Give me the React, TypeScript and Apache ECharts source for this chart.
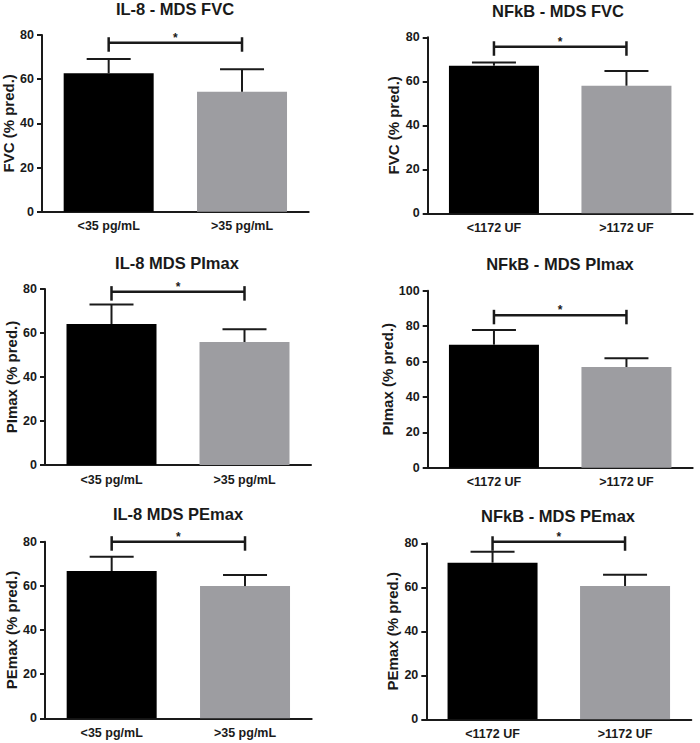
import React, { useEffect, useRef } from "react";
import * as echarts from "echarts";

// ---- data ----
const catsIL8 = ["<35 pg/mL", ">35 pg/mL"];
const catsNFkB = ["<1172 UF", ">1172 UF"];

const titles = [
  "IL-8 - MDS FVC",
  "NFkB - MDS FVC",
  "IL-8 MDS PImax",
  "NFkB - MDS PImax",
  "IL-8 MDS PEmax",
  "NFkB - MDS PEmax",
];
const yNames = [
  "FVC (% pred.)",
  "FVC (% pred.)",
  "PImax (% pred.)",
  "PImax (% pred.)",
  "PEmax (% pred.)",
  "PEmax (% pred.)",
];
const yMax = [80, 80, 80, 100, 80, 80];

const il8FvcMean = [62.7, 54.3];
const il8FvcSd = [6.4, 10.2];
const nfkbFvcMean = [67.1, 58.0];
const nfkbFvcSd = [1.5, 6.7];
const il8PimaxMean = [64.1, 55.9];
const il8PimaxSd = [8.9, 5.8];
const nfkbPimaxMean = [69.5, 56.9];
const nfkbPimaxSd = [8.3, 4.9];
const il8PemaxMean = [66.7, 59.9];
const il8PemaxSd = [6.5, 5.0];
const nfkbPemaxMean = [71.2, 60.6];
const nfkbPemaxSd = [5.0, 5.1];

// height of significance bracket (in axis units)
const sigLevels = [76.5, 75.7, 78.8, 86.1, 80.0, 80.7];

const means = [il8FvcMean, nfkbFvcMean, il8PimaxMean, nfkbPimaxMean, il8PemaxMean, nfkbPemaxMean];
const sds = [il8FvcSd, nfkbFvcSd, il8PimaxSd, nfkbPimaxSd, il8PemaxSd, nfkbPemaxSd];
const cats = [catsIL8, catsNFkB, catsIL8, catsNFkB, catsIL8, catsNFkB];

// ---- layout ----
const grids = [
  { left: 41.7, top: 35, width: 267, height: 176.7 },
  { left: 427.7, top: 37.3, width: 265, height: 176 },
  { left: 45, top: 289, width: 266, height: 176 },
  { left: 427.7, top: 290.7, width: 265, height: 177 },
  { left: 45, top: 541.7, width: 266.7, height: 176.6 },
  { left: 426.3, top: 543.3, width: 265, height: 176 },
];
const titlePos = [
  [175, 9],
  [558, 10.5],
  [177, 263],
  [560, 264],
  [178, 514],
  [558, 516],
];
const nameGaps = [26, 27, 25.5, 32, 25.5, 26.5];

const FONT = "'Liberation Sans', Arial, sans-serif";
const INK = "#1a1a1a";
const barColors = ["#000000", "#9d9da1"];

export default function App() {
  const ref = useRef<HTMLDivElement>(null);
  useEffect(() => {
    if (!ref.current) return;
    const chart = echarts.init(ref.current, undefined, { renderer: "svg" });

    const xAxis: any[] = [];
    const yAxis: any[] = [];
    const series: any[] = [];
    const graphic: any[] = [];

    for (let i = 0; i < 6; i++) {
      xAxis.push({
        type: "category",
        gridIndex: i,
        data: cats[i],
        axisLine: { lineStyle: { color: INK, width: 2 } },
        axisTick: { alignWithLabel: true, length: 5, lineStyle: { color: INK, width: 2 } },
        axisLabel: { color: INK, fontWeight: "bold", fontSize: 12.5, fontFamily: FONT, margin: 8 },
      });
      yAxis.push({
        type: "value",
        gridIndex: i,
        min: 0,
        max: yMax[i],
        interval: 20,
        name: yNames[i],
        nameLocation: "middle",
        nameGap: nameGaps[i],
        nameTextStyle: { color: INK, fontWeight: "bold", fontSize: 15, fontFamily: FONT },
        splitLine: { show: false },
        axisLine: { show: true, lineStyle: { color: INK, width: 2 } },
        axisTick: { show: true, length: 5, lineStyle: { color: INK, width: 2 } },
        axisLabel: { color: INK, fontWeight: "bold", fontSize: 12.5, fontFamily: FONT, margin: 8 },
      });
      series.push({
        type: "bar",
        xAxisIndex: i,
        yAxisIndex: i,
        barWidth: 90,
        data: means[i].map((v, k) => ({ value: v, itemStyle: { color: barColors[k] } })),
        z: 2,
      });
      series.push({
        type: "custom",
        xAxisIndex: i,
        yAxisIndex: i,
        clip: false,
        z: 3,
        encode: { x: 0, y: [1, 2] },
        data: means[i].map((v, k) => [k, v, +(v + sds[i][k]).toFixed(2)]),
        renderItem: (params: any, api: any) => {
          const x = api.value(0);
          const p0 = api.coord([x, api.value(1)]);
          const p1 = api.coord([x, api.value(2)]);
          const hw = 22;
          return {
            type: "group",
            children: [
              { type: "line", shape: { x1: p0[0], y1: p0[1], x2: p1[0], y2: p1[1] }, style: { stroke: INK, lineWidth: 2 } },
              { type: "line", shape: { x1: p1[0] - hw, y1: p1[1], x2: p1[0] + hw, y2: p1[1] }, style: { stroke: INK, lineWidth: 2 } },
            ],
          };
        },
      });
      series.push({
        type: "custom",
        xAxisIndex: i,
        yAxisIndex: i,
        clip: false,
        z: 4,
        encode: { x: [0, 1], y: 2 },
        data: [[0, 1, sigLevels[i]]],
        renderItem: (params: any, api: any) => {
          const a = api.coord([api.value(0), api.value(2)]);
          const b = api.coord([api.value(1), api.value(2)]);
          const st = { stroke: INK, lineWidth: 2.5 };
          return {
            type: "group",
            children: [
              { type: "line", shape: { x1: a[0], y1: a[1], x2: b[0], y2: b[1] }, style: st },
              { type: "line", shape: { x1: a[0], y1: a[1] - 5.5, x2: a[0], y2: a[1] + 9 }, style: st },
              { type: "line", shape: { x1: b[0], y1: b[1] - 5.5, x2: b[0], y2: b[1] + 9 }, style: st },
              {
                type: "text",
                style: {
                  text: "*",
                  x: (a[0] + b[0]) / 2,
                  y: a[1] - 5,
                  fill: INK,
                  font: `bold 12px ${FONT}`,
                  align: "center",
                  verticalAlign: "middle",
                  textAlign: "center",
                  textVerticalAlign: "middle",
                },
              },
            ],
          };
        },
      });
      graphic.push({
        type: "text",
        x: titlePos[i][0],
        y: titlePos[i][1],
        style: {
          text: titles[i],
          fill: INK,
          font: `bold 16.5px ${FONT}`,
          align: "center",
          verticalAlign: "middle",
        },
      });
    }

    chart.setOption({
      animation: false,
      backgroundColor: "#ffffff",
      grid: grids.map((g) => ({ ...g, containLabel: false })),
      xAxis,
      yAxis,
      series,
      graphic,
    });
    return () => chart.dispose();
  }, []);

  return (
    <div
      ref={ref}
      style={{ position: "fixed", left: 0, top: 0, width: 700, height: 743, background: "#fff" }}
    />
  );
}
